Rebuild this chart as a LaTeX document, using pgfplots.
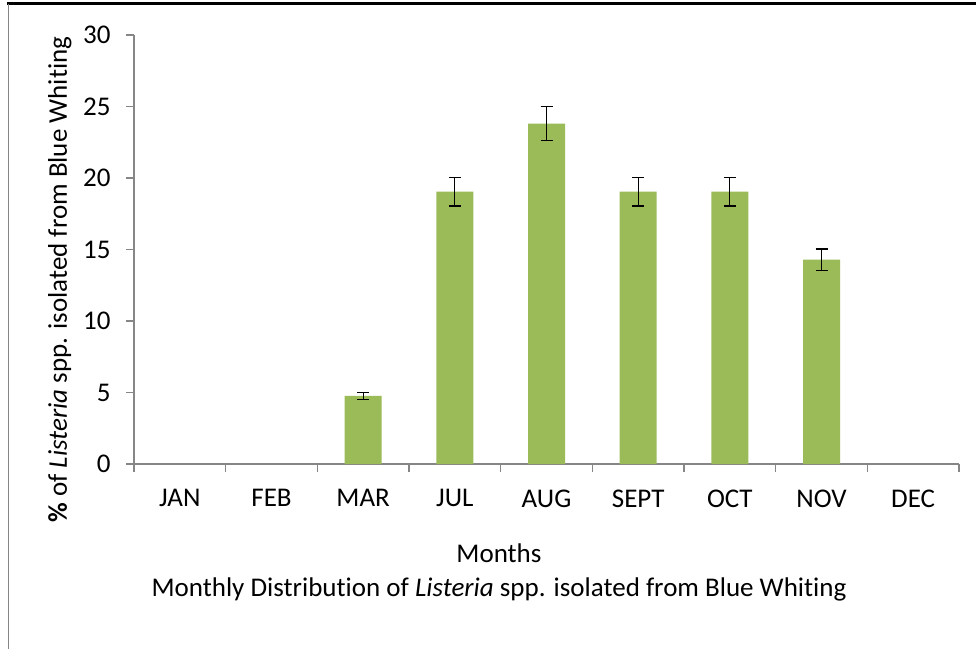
\documentclass[border=0pt]{standalone}
\usepackage{fontspec}
\setmainfont{Carlito}[Ligatures=NoCommon]
\usepackage{pgfplots}
\pgfplotsset{compat=1.18}
\definecolor{bargreen}{HTML}{9BBB59}
\definecolor{axgray}{HTML}{868686}
\begin{document}
\begin{tikzpicture}[x=1pt,y=1pt]
\useasboundingbox (0,0) rectangle (976,649);
\draw[black, line width=2.5pt] (7,645.5) -- (976,645.5);
\draw[axgray, line width=1.5pt] (8.5,645) -- (8.5,0);
\begin{axis}[
  at={(134pt,185pt)}, anchor=south west,
  scale only axis, width=825pt, height=429pt,
  xmin=-0.5, xmax=8.5, ymin=0, ymax=30,
  axis lines*=left,
  axis line style={axgray, line width=1.2pt},
  ytick={0,5,...,30},
  xtick={0,...,8},
  xticklabels={JAN,FEB,MAR,JUL,AUG,SEPT,OCT,NOV,DEC},
  minor xtick={-0.5,0.5,...,8.5},
  tick align=outside,
  major tick length=8pt,
  minor tick length=8pt,
  x tick style={draw=none},
  minor x tick style={draw=axgray, line width=1.2pt},
  y tick style={axgray, line width=1.2pt},
  tick label style={font=\fontsize{27}{32}\selectfont, black},
  /pgf/number format/assume math mode=true,
  yticklabel style={xshift=-12pt},
  xticklabel style={yshift=-14pt},
  ylabel={\textbf{\%} of \textit{Listeria} spp. isolated from Blue Whiting},
  ylabel style={at={(axis description cs:-0.09,0.43)}, anchor=center, font=\fontsize{27}{32}\selectfont},
  xlabel={Months\\Monthly Distribution of \textit{Listeria} spp. isolated from Blue Whiting},
  xlabel style={at={(axis description cs:0.4424,0)}, anchor=center, yshift=-108pt, align=center, font=\fontsize{27}{34}\selectfont},
  ybar, bar width=37pt,
  clip=false,
]
\addplot[fill=bargreen, draw=none,
  error bars/.cd, y dir=both, y explicit,
  error bar style={black, line width=1.3pt},
  error mark options={rotate=90, black, mark size=6pt, line width=1.3pt}]
  table[x=x, y=y, y error=e] {
x y e
2 4.76 0.25
3 19.05 1.0
4 23.81 1.2
5 19.05 1.0
6 19.05 1.0
7 14.29 0.75
};
\end{axis}
\end{tikzpicture}
\end{document}
